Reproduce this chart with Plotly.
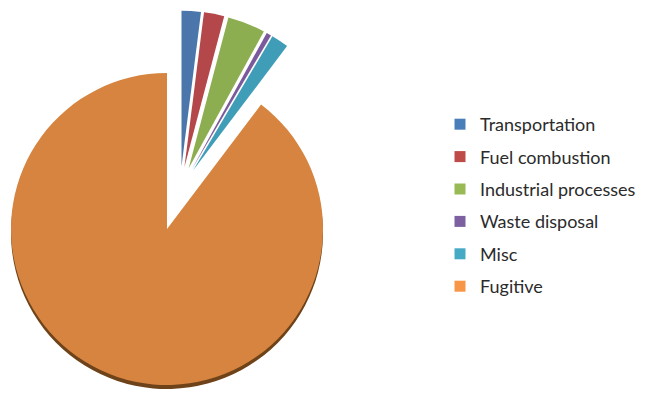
import plotly.graph_objects as go

# ---- data ----
categories = ["Transportation", "Fuel combustion", "Industrial processes",
              "Waste disposal", "Misc", "Fugitive"]
shares = [2.0, 2.1, 3.9, 0.5, 1.8, 89.7]

# ---- styles ----
slice_colors = ["#4A76AC", "#B4474A", "#8DAE50", "#7A5A9C", "#3F9DB8", "#D6843F"]
legend_colors = ["#4A7EBB", "#BE4B48", "#98B954", "#7D60A0", "#46AAC5", "#F79646"]
shadow_color = "#6E4319"
T = "rgba(0,0,0,0)"

W, H = 647, 395
R = 156.0                 # visible radius in px
big_c = (167.0, 229.0)    # centre of the large slice
small_c = (180.0, 190.0)  # centre used for the exploded small slices
PULL = 0.15


def dom(cx, cy, half):
    return dict(x=[(cx - half) / W, (cx + half) / W],
                y=[(H - (cy + half)) / H, (H - (cy - half)) / H])


is_big = [v == max(shares) for v in shares]

common = dict(labels=categories, values=shares, sort=False, direction="clockwise",
              rotation=0, textinfo="none", showlegend=False, hoverinfo="label+percent")

fig = go.Figure()

# shadow under the big slice
fig.add_trace(go.Pie(**common,
                     marker=dict(colors=[shadow_color if b else T for b in is_big],
                                 line=dict(width=0)),
                     domain=dom(big_c[0], big_c[1] + 4, R)))
# big slice (not pulled)
fig.add_trace(go.Pie(**common,
                     marker=dict(colors=[c if b else T for c, b in zip(slice_colors, is_big)],
                                 line=dict(width=0)),
                     domain=dom(big_c[0], big_c[1], R)))
# small slices, exploded
fig.add_trace(go.Pie(**common,
                     pull=[0 if b else PULL for b in is_big],
                     marker=dict(colors=[T if b else c for c, b in zip(slice_colors, is_big)],
                                 line=dict(width=0)),
                     domain=dom(small_c[0], small_c[1], R * (1 + PULL))))

# legend entries
for name, col in zip(categories, legend_colors):
    fig.add_trace(go.Scatter(x=[None], y=[None], mode="markers", name=name,
                             legendgroup=name,
                             marker=dict(symbol="square", size=11, color=col)))

fig.update_layout(
    width=W, height=H,
    margin=dict(l=0, r=0, t=0, b=0),
    paper_bgcolor="white", plot_bgcolor="white",
    xaxis=dict(visible=False), yaxis=dict(visible=False),
    showlegend=True,
    legend=dict(x=440 / W, y=(H - 106) / H, xanchor="left", yanchor="top",
                traceorder="grouped", tracegroupgap=6,
                font=dict(family="Lato", size=18, color="#2b2b2b"),
                bgcolor="rgba(0,0,0,0)"),
)

fig.write_html("out.html")
